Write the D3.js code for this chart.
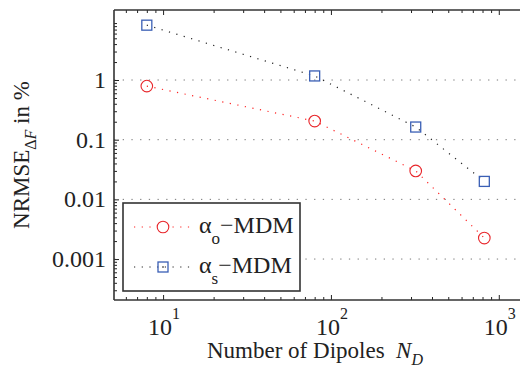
<!DOCTYPE html>
<html><head><meta charset="utf-8">
<script src="https://cdn.jsdelivr.net/npm/d3@7"></script>
<style>
body{margin:0;background:#fff;}
text{font-family:"Liberation Serif","Times New Roman",serif;fill:#222;}
</style></head>
<body><svg id="c" width="520" height="369"></svg>
<script>
const dipoles = [8, 80, 320, 820];
const alphaO = [0.79, 0.205, 0.030, 0.00225];
const alphaS = [8.3, 1.17, 0.163, 0.020];
const yTicks = [0.001, 0.01, 0.1, 1];
const yTickLabels = ["0.001", "0.01", "0.1", "1"];
const xTicks = [10, 100, 1000];
const xTickExp = ["1", "2", "3"];

const svg = d3.select("#c");
const L = 114, T = 10, B = 300;
const dec = 167.85;
const x = d3.scaleLog().domain([5.1, 1400]).range([L, L + (Math.log10(1400) - Math.log10(5.1)) * dec]);
const y = d3.scaleLog().domain([2.06e-4, 14.9]).range([B, T]);

// grid
svg.append("g").selectAll("line").data(yTicks).join("line")
  .attr("x1", L).attr("x2", 520).attr("y1", d => y(d)).attr("y2", d => y(d))
  .attr("stroke", "#777").attr("stroke-width", 1).attr("stroke-dasharray", "1.3,7.4");

// minor ticks
const xMinor = [], yMinor = [];
for (let e = 0; e <= 3; e++) for (let m = 2; m <= 9; m++) { const v = m * Math.pow(10, e); if (v >= 5.1 && v <= 1400) xMinor.push(v); }
for (let e = -4; e <= 1; e++) for (let m = 2; m <= 9; m++) { const v = m * Math.pow(10, e); if (v >= 2.06e-4 && v <= 14.9) yMinor.push(v); }

function addAxis(axis, tf) {
  const g = svg.append("g").attr("transform", tf).call(axis);
  g.select(".domain").remove();
  g.selectAll("text").remove();
  g.selectAll("line").attr("stroke", "#222").attr("stroke-width", 1);
}
addAxis(d3.axisBottom(x).tickValues(xTicks).tickSize(-5), `translate(0,${B})`);
addAxis(d3.axisBottom(x).tickValues(xMinor).tickSize(-3), `translate(0,${B})`);
addAxis(d3.axisTop(x).tickValues(xTicks).tickSize(-5), `translate(0,${T})`);
addAxis(d3.axisTop(x).tickValues(xMinor).tickSize(-3), `translate(0,${T})`);
addAxis(d3.axisLeft(y).tickValues(yTicks).tickSize(-5), `translate(${L},0)`);
addAxis(d3.axisLeft(y).tickValues(yMinor).tickSize(-3), `translate(${L},0)`);

// axis lines
svg.append("line").attr("x1", L).attr("x2", L).attr("y1", T).attr("y2", B).attr("stroke", "#333").attr("stroke-width", 1.6);
svg.append("line").attr("x1", L).attr("x2", 520).attr("y1", B).attr("y2", B).attr("stroke", "#333").attr("stroke-width", 1.6);
svg.append("line").attr("x1", L).attr("x2", 520).attr("y1", T).attr("y2", T).attr("stroke", "#333").attr("stroke-width", 1.6);

// y tick labels
svg.append("g").selectAll("text").data(yTicks).join("text")
  .attr("x", 106).attr("y", d => y(d) + 8).attr("text-anchor", "end")
  .attr("font-size", 24).text((d, i) => yTickLabels[i]);

// x tick labels
const xl = svg.append("g").selectAll("text").data(xTicks).join("text")
  .attr("x", d => x(d) + 1).attr("y", 335).attr("text-anchor", "middle").attr("font-size", 24);
xl.append("tspan").text("10");
xl.append("tspan").attr("dy", -16).attr("font-size", 16).text((d, i) => xTickExp[i]);

// series
const line = d3.line().x(d => x(d[0])).y(d => y(d[1]));
const dO = dipoles.map((d, i) => [d, alphaO[i]]);
const dS = dipoles.map((d, i) => [d, alphaS[i]]);
svg.append("path").attr("d", line(dO)).attr("fill", "none").attr("stroke", "#f22").attr("stroke-width", 1.2).attr("stroke-dasharray", "1.2,6.5");
svg.append("path").attr("d", line(dS)).attr("fill", "none").attr("stroke", "#222").attr("stroke-width", 1.2).attr("stroke-dasharray", "1.2,6.5");
svg.append("g").selectAll("circle").data(dO).join("circle")
  .attr("cx", d => x(d[0])).attr("cy", d => y(d[1])).attr("r", 5.8)
  .attr("fill", "none").attr("stroke", "#e8262b").attr("stroke-width", 1.1);
svg.append("g").selectAll("rect").data(dS).join("rect")
  .attr("x", d => x(d[0]) - 5).attr("y", d => y(d[1]) - 5).attr("width", 10).attr("height", 10)
  .attr("fill", "none").attr("stroke", "#3a5fb5").attr("stroke-width", 1.3);

// legend
const lg = svg.append("g");
lg.append("rect").attr("x", 123).attr("y", 203).attr("width", 177).attr("height", 88)
  .attr("fill", "#fff").attr("stroke", "#333").attr("stroke-width", 1.6);
const ly1 = 227, ly2 = 267;
lg.append("line").attr("x1", 134).attr("x2", 192).attr("y1", ly1).attr("y2", ly1).attr("stroke", "#f22").attr("stroke-width", 1.2).attr("stroke-dasharray", "1.2,6.5");
lg.append("line").attr("x1", 134).attr("x2", 192).attr("y1", ly2).attr("y2", ly2).attr("stroke", "#222").attr("stroke-width", 1.2).attr("stroke-dasharray", "1.2,6.5");
lg.append("circle").attr("cx", 163).attr("cy", ly1).attr("r", 5.8).attr("fill", "#fff").attr("stroke", "#e8262b").attr("stroke-width", 1.1);
lg.append("rect").attr("x", 158).attr("y", ly2 - 5).attr("width", 10).attr("height", 10).attr("fill", "none").attr("stroke", "#3a5fb5").attr("stroke-width", 1.3);
lg.append("line").attr("x1", 162).attr("x2", 164).attr("y1", ly2).attr("y2", ly2).attr("stroke", "#222").attr("stroke-width", 1.2);
function legText(yb, sub) {
  const t = lg.append("text").attr("x", 199).attr("y", yb).attr("font-size", 24);
  t.append("tspan").text("α");
  t.append("tspan").attr("dy", 11).attr("font-size", 17).text(sub);
  t.append("tspan").attr("dy", -11).text("−MDM");
}
legText(ly1 + 6, "o");
legText(ly2 + 6, "s");

// axis titles
const xt = svg.append("text").attr("x", 207).attr("y", 358).attr("font-size", 23).attr("xml:space", "preserve");
xt.append("tspan").text("Number of Dipoles  ");
xt.append("tspan").attr("font-style", "italic").text("N");
xt.append("tspan").attr("font-style", "italic").attr("font-size", 16).attr("dy", 7).text("D");

const yt = svg.append("text").attr("transform", "translate(29,155) rotate(-90)")
  .attr("text-anchor", "middle").attr("font-size", 23);
yt.append("tspan").text("NRMSE");
yt.append("tspan").attr("font-size", 16).attr("dy", 7).text("Δ");
yt.append("tspan").attr("font-size", 16).attr("font-style", "italic").text("F");
yt.append("tspan").attr("dy", -7).text(" in %");
</script></body></html>
